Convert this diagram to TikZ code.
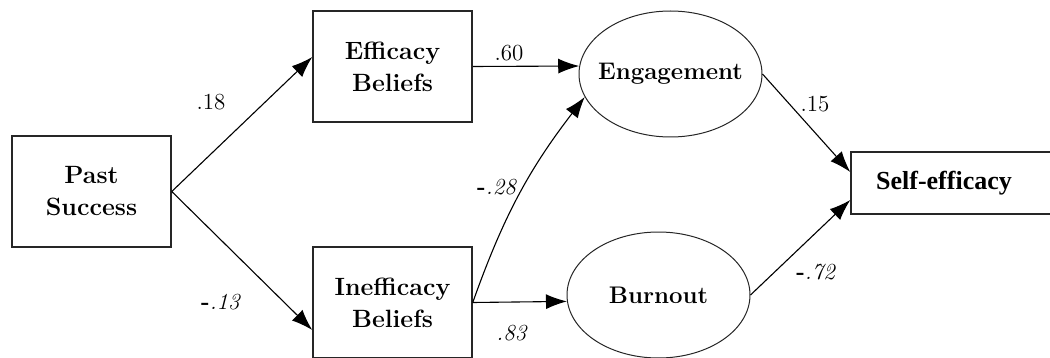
\documentclass[tikz,border=0pt]{standalone}
\usepackage{fontspec}
\usetikzlibrary{arrows.meta,positioning,calc,shapes.geometric}
\newfontfamily\selffont{Liberation Serif}
\tikzset{
  sbox/.style   ={draw=black!85, line width=.75pt, align=center, inner sep=2pt,
                  minimum width=79.5pt, minimum height=55.5pt,
                  font=\fontsize{12.5}{16}\selectfont\bfseries},
  slat/.style   ={ellipse, draw=black!85, line width=.5pt, align=center,
                  inner xsep=-20pt, inner ysep=0pt,
                  minimum width=91.5pt, minimum height=63pt,
                  font=\fontsize{12}{16}\selectfont\bfseries},
  sout/.style   ={sbox, minimum width=105pt, minimum height=31pt,
                  font=\fontsize{13}{15}\selffont\bfseries},
  sarrow/.style ={-{Latex[length=10.5pt,width=7.5pt]}, line width=.55pt, draw=black},
  scoef/.style  ={inner sep=0pt, font=\fontsize{11.5}{13}\selectfont},
}
\begin{document}
\begin{tikzpicture}[x=0.5pt, y=-0.5pt]
  \useasboundingbox (0,0) rectangle (1050,358);

  % ---- observed ----
  \node[sbox] (past)  at (91.5,191.5)  {Past\\Success};
  \node[sbox] (eff)   at (392.5,66.5)  {Efficacy\\Beliefs};
  \node[sbox] (ineff) at (392.5,302.5) {Inefficacy\\Beliefs};

  % ---- latent ----
  \node[slat] (eng) at (670.5,74)  {Engagement};
  \node[slat] (bur) at (658.5,295) {Burnout};

  % ---- outcome ----
  \node[sout] (self) at (956,183) {\hspace*{-12pt}Self-efficacy};

  % ---- paths ----
  \draw[sarrow] (past.east) -- ([yshift=4.75pt]eff.west);
  \draw[sarrow] (past.east) -- ([yshift=-13.75pt]ineff.west);
  \draw[sarrow] (eff.east)  -- (eng.175);
  \draw[sarrow] (ineff.east) to[bend left=9] (eng.195);
  \draw[sarrow] (ineff.east) -- (bur.184);
  \draw[sarrow] (eng.east) -- ([yshift=5.5pt]self.west);
  \draw[sarrow] (bur.east) -- ([yshift=-8.5pt]self.west);

  % ---- coefficients ----
  \node[scoef] (c18) at (211,102) {.18};
  \node[scoef] (c13) at (221,302) {\textbf{-}\textit{.13}};
  \node[scoef] (c60) at (509,53)  {.60};
  \node[scoef] (c28) at (497,187) {\textbf{-}\textit{.28}};
  \node[scoef] (c83) at (512,333) {\textit{.83}};
  \node[scoef] (c15) at (815,104) {.15};
  \node[scoef] (c72) at (816,272) {\textbf{-}\textit{.72}};

\end{tikzpicture}
\end{document}
